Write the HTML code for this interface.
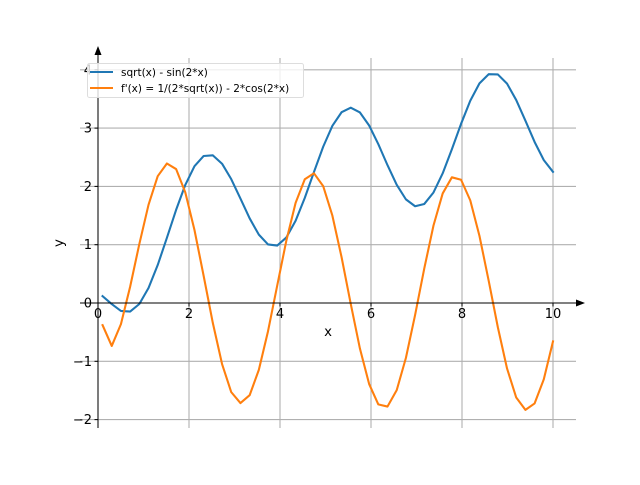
<!DOCTYPE html><html><head><style>body{margin:0;background:#fff}svg{font-family:"DejaVu Sans","Liberation Sans",sans-serif}</style></head><body>
<svg id="s" width="640" height="480" xmlns="http://www.w3.org/2000/svg">
<g stroke="#b0b0b0" stroke-width="1.1" id="grid"></g>
<g id="lines" fill="none" stroke-width="2.08" stroke-linejoin="round" stroke-linecap="square"></g>
<g stroke="#000" stroke-width="1">
<line x1="98" y1="428" x2="98" y2="50"/>
<line x1="80" y1="303" x2="580" y2="303"/>
</g>
<polygon points="98,46 94.5,55 101.5,55" fill="#000"/>
<polygon points="585,303 576,299.5 576,306.5" fill="#000"/>
<g id="ticks" font-size="13.3" fill="#000"></g>
<text x="328" y="336" font-size="13.3" text-anchor="middle">x</text>
<text x="63" y="243" font-size="13.3" text-anchor="middle" transform="rotate(-90 63 243)">y</text>
<rect x="87.5" y="63.5" width="216" height="34" rx="2" fill="#fff" fill-opacity="0.8" stroke="#ddd"/>
<line x1="90" y1="72" x2="113" y2="72" stroke="#1f77b4" stroke-width="2.08"/>
<line x1="90" y1="88" x2="113" y2="88" stroke="#ff7f0e" stroke-width="2.08"/>
<text x="121" y="76" font-size="10.5">sqrt(x) - sin(2*x)</text>
<text x="121" y="92" font-size="10.5">f'(x) = 1/(2*sqrt(x)) - 2*cos(2*x)</text>
</svg>
<script>
var X=function(x){return 98+x*45.5},Y=function(y){return 303-y*58.3};
var ns="http://www.w3.org/2000/svg";
function el(p,t,a,txt){var e=document.createElementNS(ns,t);for(var k in a)e.setAttribute(k,a[k]);if(txt!==undefined)e.textContent=txt;document.getElementById(p).appendChild(e);return e;}
for(var i=0;i<=10;i+=2){el("grid","line",{x1:X(i),x2:X(i),y1:58,y2:428});el("ticks","line",{x1:X(i),x2:X(i),y1:303,y2:306.5,stroke:"#000"});el("ticks","text",{x:X(i),y:318,"text-anchor":"middle","font-size":"13"},String(i));}
for(var j=-2;j<=4;j++){el("grid","line",{x1:80,x2:576,y1:Y(j),y2:Y(j)});el("ticks","line",{x1:94.5,x2:98,y1:Y(j),y2:Y(j),stroke:"#000"});el("ticks","text",{x:92,y:Y(j)+4.5,"text-anchor":"end","font-size":"13"},j<0?"\u2212"+(-j):String(j));}
var a=[],b=[];for(var k=0;k<50;k++){var x=0.1+k*9.9/49;a.push(X(x)+","+Y(Math.sqrt(x)-Math.sin(2*x)));b.push(X(x)+","+Y(1/(2*Math.sqrt(x))-2*Math.cos(2*x)));}
el("lines","polyline",{points:a.join(" "),stroke:"#1f77b4"});el("lines","polyline",{points:b.join(" "),stroke:"#ff7f0e"});
</script>
</body></html>
